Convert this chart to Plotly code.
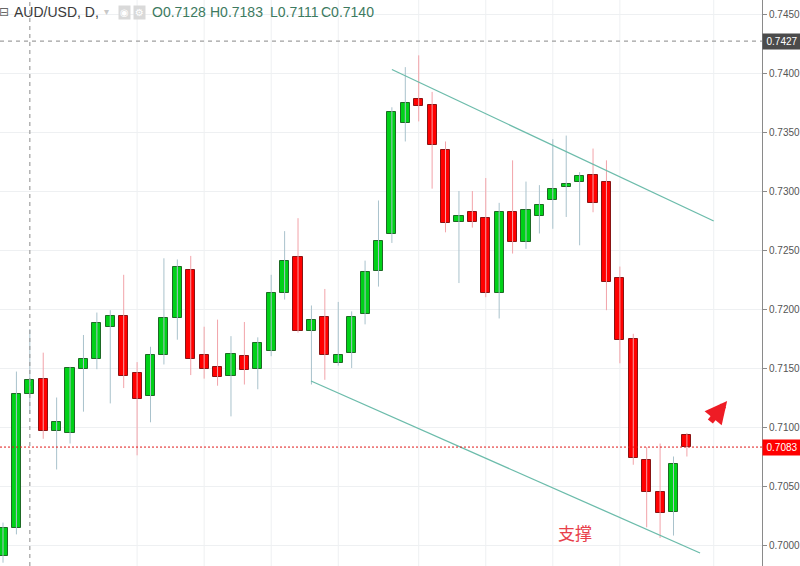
import plotly.graph_objects as go

# ---------------- data ----------------
opens = [0.6991, 0.7014, 0.7128, 0.7141, 0.7097, 0.7095, 0.7149, 0.7158, 0.7185, 0.7194,
         0.7146, 0.7126, 0.7161, 0.7192, 0.7233, 0.7161, 0.7151, 0.7143, 0.7160, 0.7149,
         0.7164, 0.7214, 0.7244, 0.7181, 0.7193, 0.7154, 0.7163, 0.7196, 0.7232, 0.7264,
         0.7358, 0.7378, 0.7373, 0.7335, 0.7274, 0.7282, 0.7277, 0.7214, 0.7282, 0.7257,
         0.7279, 0.7292, 0.7303, 0.7308, 0.7314, 0.7308, 0.7226, 0.7175, 0.7072, 0.7045,
         0.7028, 0.7093]
highs = [0.7019, 0.7147, 0.7183, 0.7163, 0.7125, 0.7151, 0.7178, 0.7197, 0.7199, 0.7229,
         0.7155, 0.7168, 0.7243, 0.7242, 0.7245, 0.7185, 0.7191, 0.7177, 0.7189, 0.7176,
         0.7229, 0.7266, 0.7277, 0.7203, 0.7217, 0.7206, 0.7198, 0.7241, 0.7292, 0.7371,
         0.7405, 0.7415, 0.7384, 0.7342, 0.7300, 0.7300, 0.7311, 0.7290, 0.7326, 0.7308,
         0.7305, 0.7344, 0.7347, 0.7316, 0.7336, 0.7326, 0.7236, 0.7179, 0.7083, 0.7086,
         0.7075, 0.7095]
lows = [0.6985, 0.7009, 0.7111, 0.7090, 0.7064, 0.7086, 0.7113, 0.7149, 0.7120, 0.7133,
        0.7076, 0.7104, 0.7153, 0.7174, 0.7144, 0.7141, 0.7135, 0.7109, 0.7136, 0.7132,
        0.7160, 0.7208, 0.7180, 0.7136, 0.7140, 0.7152, 0.7150, 0.7187, 0.7219, 0.7256,
        0.7342, 0.7359, 0.7302, 0.7265, 0.7222, 0.7269, 0.7210, 0.7192, 0.7247, 0.7251,
        0.7264, 0.7268, 0.7278, 0.7254, 0.7282, 0.7199, 0.7154, 0.7068, 0.7015, 0.7006,
        0.7008, 0.7075]
closes = [0.7014, 0.7128, 0.7140, 0.7097, 0.7104, 0.7150, 0.7158, 0.7188, 0.7194, 0.7143,
          0.7124, 0.7161, 0.7192, 0.7236, 0.7158, 0.7149, 0.7142, 0.7162, 0.7148, 0.7171,
          0.7214, 0.7241, 0.7181, 0.7191, 0.7161, 0.7161, 0.7193, 0.7231, 0.7258, 0.7367,
          0.7375, 0.7372, 0.7339, 0.7273, 0.7279, 0.7274, 0.7214, 0.7282, 0.7257, 0.7284,
          0.7288, 0.7302, 0.7306, 0.7313, 0.7290, 0.7223, 0.7174, 0.7074, 0.7045, 0.7027,
          0.7069, 0.7083]

y_ticks = [0.7000, 0.7050, 0.7100, 0.7150, 0.7200, 0.7250, 0.7300, 0.7350, 0.7400, 0.7450]
y_tick_labels = ["0.7000", "0.7050", "0.7100", "0.7150", "0.7200", "0.7250",
                 "0.7300", "0.7350", "0.7400", "0.7450"]
time_grid = [10, 15, 20, 25, 31, 36, 41, 46, 53]

cross_index = 2
cross_price = 0.7427
last_price = 0.7083

upper_line_x = [29.0, 53.0]
upper_line_y = [0.7403, 0.72746]
lower_line_x = [22.97, 51.98]
lower_line_y = [0.71390, 0.69932]

support_label = "支撑"
support_x, support_y = 42.65, 0.70110
arrow_x, arrow_y = 54.0, 0.71220

symbol_text = "AUD/USD, D,"
ohlc_text = ["O0.7128", "H0.7183", "L0.7111", "C0.7140"]

# ---------------- figure ----------------
W, H = 800, 566
ML, MR, MT, MB = 0, 38, 0, 0
PW = W - ML - MR
PH = H - MT - MB

idx = list(range(len(opens)))
up = [c >= o for o, c in zip(opens, closes)]

UP_BODY, UP_EDGE, UP_WICK = "#00d118", "#1d6a25", "#a9c2cc"
DN_BODY, DN_EDGE, DN_WICK = "#ff0000", "#8a1414", "#f2a3a9"

fig = go.Figure()

# wicks
for is_up, color in ((True, UP_WICK), (False, DN_WICK)):
    wx, wy = [], []
    for i in idx:
        if up[i] == is_up:
            wx += [i, i, None]
            wy += [lows[i], highs[i], None]
    fig.add_trace(go.Scatter(x=wx, y=wy, mode="lines",
                             line=dict(color=color, width=1),
                             hoverinfo="skip", showlegend=False))

# bodies
base = [min(o, c) for o, c in zip(opens, closes)]
height = [max(abs(c - o), 0.00004) for o, c in zip(opens, closes)]
fig.add_trace(go.Bar(x=idx, y=height, base=base, width=0.68,
                     marker=dict(color=[UP_BODY if u else DN_BODY for u in up],
                                 line=dict(color=[UP_EDGE if u else DN_EDGE for u in up],
                                           width=1)),
                     hoverinfo="skip", showlegend=False))

# trend lines
for lx, ly in ((upper_line_x, upper_line_y), (lower_line_x, lower_line_y)):
    fig.add_trace(go.Scatter(x=lx, y=ly, mode="lines",
                             line=dict(color="#6cbcab", width=1.3),
                             hoverinfo="skip", showlegend=False))

x_range = [-0.224, 56.6]
y_range = [0.69822, 0.74619]

shapes = []
for g in time_grid:
    shapes.append(dict(type="line", xref="x", yref="paper", x0=g, x1=g, y0=0, y1=1,
                       line=dict(color="#eef0f2", width=1), layer="below"))
# crosshair
shapes.append(dict(type="line", xref="x", yref="paper", x0=cross_index, x1=cross_index,
                   y0=0, y1=1, line=dict(color="#a0a0a0", width=1.2, dash="4px,4px")))
shapes.append(dict(type="line", xref="paper", yref="y", x0=0, x1=1,
                   y0=cross_price, y1=cross_price,
                   line=dict(color="#a0a0a0", width=1.2, dash="4px,4px")))
# last price line
shapes.append(dict(type="line", xref="paper", yref="y", x0=0, x1=1,
                   y0=last_price, y1=last_price,
                   line=dict(color="#e01818", width=1, dash="2px,2px")))

FONT = "Liberation Sans, Arial, sans-serif"

def px_x(p):
    return p / PW

def px_y(p):
    return 1 - p / PH

annotations = [
    dict(xref="paper", yref="y", x=1, y=cross_price, xanchor="left", yanchor="middle",
         text="0.7427", showarrow=False, bgcolor="#4b4b4b", width=34,
         font=dict(color="white", size=10, family=FONT), borderpad=2),
    dict(xref="paper", yref="y", x=1, y=last_price, xanchor="left", yanchor="middle",
         text="0.7083", showarrow=False, bgcolor="#ff0000", width=34,
         font=dict(color="white", size=10, family=FONT), borderpad=2),
    dict(xref="x", yref="y", x=support_x, y=support_y, text=support_label,
         showarrow=False, font=dict(color="#e8404a", size=17,
                                    family="Noto Sans CJK SC")),
    dict(xref="x", yref="y", x=arrow_x, y=arrow_y, ax=-18, ay=22, text="",
         showarrow=True, arrowhead=2, arrowsize=0.68, arrowwidth=6.5,
         arrowcolor="#ee1c25", standoff=0, startstandoff=0),
    # header
    dict(xref="paper", yref="paper", x=px_x(12), y=px_y(12), xanchor="left",
         yanchor="middle", text=symbol_text, showarrow=False,
         font=dict(color="#3a3a3a", size=14, family=FONT)),
    dict(xref="paper", yref="paper", x=px_x(-3), y=px_y(12), xanchor="left",
         yanchor="middle", text="⊟", showarrow=False,
         font=dict(color="#666666", size=12, family="DejaVu Sans")),
    dict(xref="paper", yref="paper", x=px_x(102), y=px_y(11), xanchor="left",
         yanchor="middle", text="▾", showarrow=False,
         font=dict(color="#c8c8c8", size=10, family="DejaVu Sans")),
    dict(xref="paper", yref="paper", x=px_x(118), y=px_y(12), xanchor="left",
         yanchor="middle", text="◉", showarrow=False, bgcolor="#d9d9d9",
         font=dict(color="#ffffff", size=10, family="DejaVu Sans"), borderpad=1),
    dict(xref="paper", yref="paper", x=px_x(133), y=px_y(12), xanchor="left",
         yanchor="middle", text="⚙", showarrow=False, bgcolor="#d9d9d9",
         font=dict(color="#ffffff", size=10, family="DejaVu Sans"), borderpad=1),
]
ohlc_px = [150, 208, 268, 319]
for t, p in zip(ohlc_text, ohlc_px):
    annotations.append(dict(xref="paper", yref="paper", x=px_x(p), y=px_y(12),
                            xanchor="left", yanchor="middle", text=t, showarrow=False,
                            font=dict(color="#3c7a60", size=14, family=FONT)))

fig.update_layout(
    width=W, height=H,
    margin=dict(l=ML, r=MR, t=MT, b=MB, autoexpand=False),
    paper_bgcolor="white", plot_bgcolor="white",
    barmode="overlay", bargap=0,
    showlegend=False,
    shapes=shapes,
    annotations=annotations,
    xaxis=dict(range=x_range, showgrid=False, zeroline=False, showticklabels=False,
               ticks="", showline=False, fixedrange=True, automargin=False),
    yaxis=dict(range=y_range, side="right", tickvals=y_ticks, ticktext=y_tick_labels,
               showgrid=True, gridcolor="#eef0f2", gridwidth=1, zeroline=False,
               ticks="outside", ticklen=4, tickcolor="#8a8a8a",
               showline=True, linecolor="#8a8a8a", linewidth=1,
               tickfont=dict(color="#555555", size=10, family=FONT),
               fixedrange=True, automargin=False),
)

fig.write_html("out.html",
               config={"displayModeBar": False},
               post_script="document.body.style.margin='0';"
                           "document.body.style.overflow='hidden';")
